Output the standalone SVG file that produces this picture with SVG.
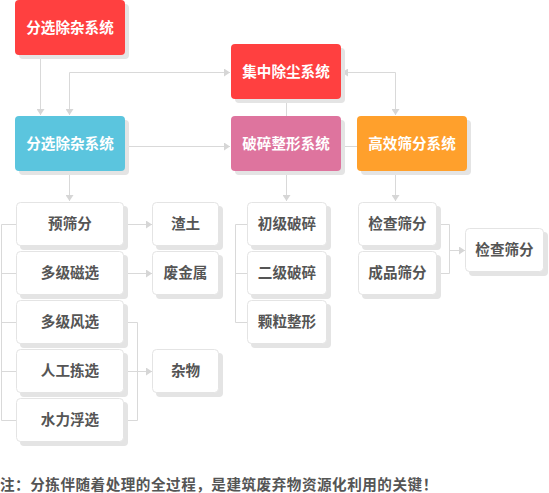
<svg xmlns="http://www.w3.org/2000/svg" width="549" height="493" viewBox="0 0 549 493">
<defs>
<marker id="ar" viewBox="0 0 6 8" refX="6" refY="4" markerWidth="6" markerHeight="8" markerUnits="userSpaceOnUse" orient="auto-start-reverse">
<path d="M0,0 L6,4 L0,8 Z" fill="#d6d6d6"/>
</marker>
</defs>
<style>
.sh{fill:#e4e4e4}
.t{font-family:"Noto Sans CJK SC","Noto Sans",sans-serif;font-weight:bold;font-size:14.6px;text-anchor:middle}
.w{fill:#ffffff}
.g{fill:#555555}
.wb{fill:#ffffff;stroke:#e4e4e4;stroke-width:1}
.c{fill:none;stroke:#d9d9d9;stroke-width:1}
</style>
<rect width="549" height="493" fill="#ffffff"/>
<g id="connectors">
<path class="c" d="M40.5,54 V115" marker-end="url(#ar)"/>
<path class="c" d="M69.5,115 V72.5 H230" marker-start="url(#ar)" marker-end="url(#ar)"/>
<path class="c" d="M342,72.5 H395.5 V115" marker-start="url(#ar)" marker-end="url(#ar)"/>
<path class="c" d="M286.5,99 V116"/>
<path class="c" d="M125,146.5 H230" marker-end="url(#ar)"/>
<path class="c" d="M341,146.5 H357"/>
<path class="c" d="M69.5,171 V201" marker-end="url(#ar)"/>
<path class="c" d="M286.5,171 V201" marker-end="url(#ar)"/>
<path class="c" d="M395.5,171 V201" marker-end="url(#ar)"/>
<path class="c" d="M16,224.5 H1.5 V420.5 H16 M1.5,273.5 H16 M1.5,322.5 H16 M1.5,371.5 H16"/>
<path class="c" d="M124,224.5 H152" marker-end="url(#ar)"/>
<path class="c" d="M124,273.5 H152" marker-end="url(#ar)"/>
<path class="c" d="M124,322.5 H137.5 V420.5 H124"/>
<path class="c" d="M124,371.5 H152" marker-end="url(#ar)"/>
<path class="c" d="M247,224.5 H235.5 V322.5 H247 M235.5,273.5 H247"/>
<path class="c" d="M437,224.5 H449.5 V273.5 H437"/>
<path class="c" d="M449.5,250.5 H465" marker-end="url(#ar)"/>
</g>
<g id="n1">
<rect class="sh" x="19" y="4" width="110" height="55" rx="4"/>
<rect x="15" y="0" width="110" height="55" rx="4" fill="#ff4040"/>
<text class="t w" x="70" y="33">分选除杂系统</text>
</g>
<g id="n2">
<rect class="sh" x="235" y="48" width="110" height="55" rx="4"/>
<rect x="231" y="44" width="110" height="55" rx="4" fill="#ff4040"/>
<text class="t w" x="286" y="77">集中除尘系统</text>
</g>
<g id="n3">
<rect class="sh" x="19" y="120" width="110" height="55" rx="4"/>
<rect x="15" y="116" width="110" height="55" rx="4" fill="#5bc5de"/>
<text class="t w" x="70" y="149">分选除杂系统</text>
</g>
<g id="n4">
<rect class="sh" x="235" y="120" width="110" height="55" rx="4"/>
<rect x="231" y="116" width="110" height="55" rx="4" fill="#de749e"/>
<text class="t w" x="286" y="149">破碎整形系统</text>
</g>
<g id="n5">
<rect class="sh" x="361" y="120" width="110" height="55" rx="4"/>
<rect x="357" y="116" width="110" height="55" rx="4" fill="#ffa02c"/>
<text class="t w" x="412" y="149">高效筛分系统</text>
</g>
<g id="a1"><rect class="sh" x="20" y="206" width="108" height="44" rx="4"/><rect class="wb" x="16.5" y="202.5" width="107" height="43" rx="4"/><text class="t g" x="70" y="229">预筛分</text></g>
<g id="a2"><rect class="sh" x="20" y="255" width="108" height="44" rx="4"/><rect class="wb" x="16.5" y="251.5" width="107" height="43" rx="4"/><text class="t g" x="70" y="278">多级磁选</text></g>
<g id="a3"><rect class="sh" x="20" y="304" width="108" height="44" rx="4"/><rect class="wb" x="16.5" y="300.5" width="107" height="43" rx="4"/><text class="t g" x="70" y="327">多级风选</text></g>
<g id="a4"><rect class="sh" x="20" y="353" width="108" height="44" rx="4"/><rect class="wb" x="16.5" y="349.5" width="107" height="43" rx="4"/><text class="t g" x="70" y="376">人工拣选</text></g>
<g id="a5"><rect class="sh" x="20" y="402" width="108" height="44" rx="4"/><rect class="wb" x="16.5" y="398.5" width="107" height="43" rx="4"/><text class="t g" x="70" y="425">水力浮选</text></g>
<g id="b1"><rect class="sh" x="156" y="206" width="67" height="44" rx="4"/><rect class="wb" x="152.5" y="202.5" width="66" height="43" rx="4"/><text class="t g" x="185.5" y="229">渣土</text></g>
<g id="b2"><rect class="sh" x="156" y="255" width="67" height="44" rx="4"/><rect class="wb" x="152.5" y="251.5" width="66" height="43" rx="4"/><text class="t g" x="185.5" y="278">废金属</text></g>
<g id="b3"><rect class="sh" x="156" y="353" width="67" height="44" rx="4"/><rect class="wb" x="152.5" y="349.5" width="66" height="43" rx="4"/><text class="t g" x="185.5" y="376">杂物</text></g>
<g id="c1"><rect class="sh" x="251" y="206" width="80" height="44" rx="4"/><rect class="wb" x="247.5" y="202.5" width="79" height="43" rx="4"/><text class="t g" x="287" y="229">初级破碎</text></g>
<g id="c2"><rect class="sh" x="251" y="255" width="80" height="44" rx="4"/><rect class="wb" x="247.5" y="251.5" width="79" height="43" rx="4"/><text class="t g" x="287" y="278">二级破碎</text></g>
<g id="c3"><rect class="sh" x="251" y="304" width="80" height="44" rx="4"/><rect class="wb" x="247.5" y="300.5" width="79" height="43" rx="4"/><text class="t g" x="287" y="327">颗粒整形</text></g>
<g id="d1"><rect class="sh" x="362" y="206" width="79" height="44" rx="4"/><rect class="wb" x="358.5" y="202.5" width="78" height="43" rx="4"/><text class="t g" x="397.5" y="229">检查筛分</text></g>
<g id="d2"><rect class="sh" x="362" y="255" width="79" height="44" rx="4"/><rect class="wb" x="358.5" y="251.5" width="78" height="43" rx="4"/><text class="t g" x="397.5" y="278">成品筛分</text></g>
<g id="d3"><rect class="sh" x="469" y="232" width="79" height="44" rx="4"/><rect class="wb" x="465.5" y="228.5" width="78" height="43" rx="4"/><text class="t g" x="504.5" y="255">检查筛分</text></g>
<text x="0" y="490" style="font-family:'Noto Sans CJK SC','Noto Sans',sans-serif;font-weight:bold;font-size:14.6px;letter-spacing:0.5px;fill:#555555">注：分拣伴随着处理的全过程，是建筑废弃物资源化利用的关键！</text>
</svg>
